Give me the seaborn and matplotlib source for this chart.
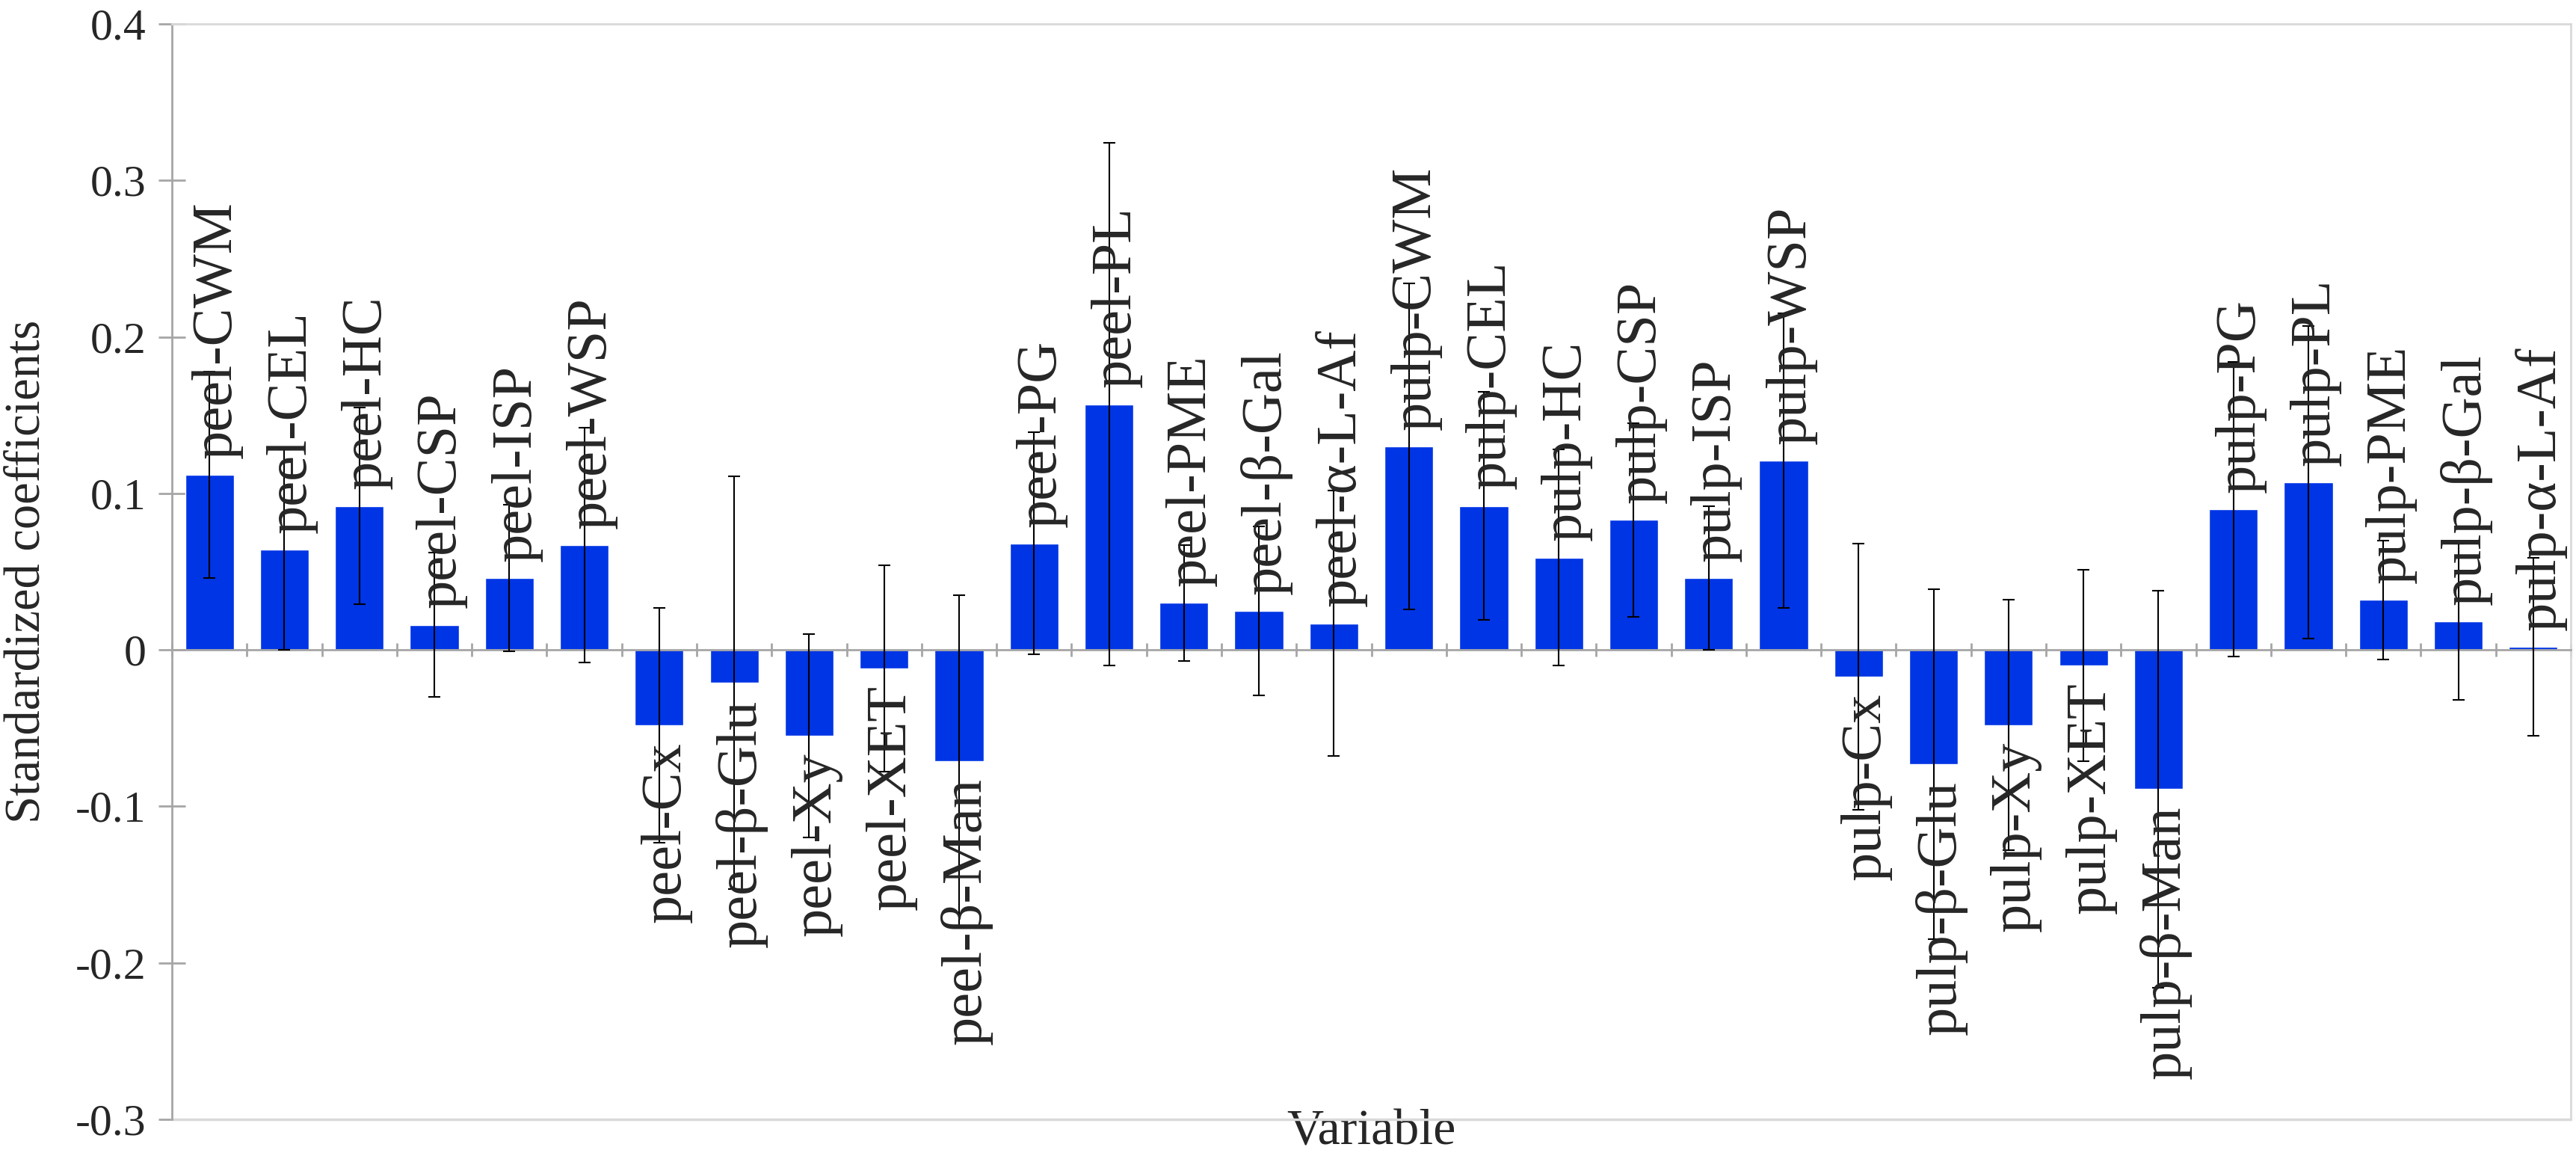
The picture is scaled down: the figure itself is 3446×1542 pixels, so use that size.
import matplotlib
matplotlib.use("Agg")
from matplotlib import pyplot as plt
from matplotlib.ticker import FixedLocator, FuncFormatter
import pandas as pd
import seaborn as sns
import numpy as np

# hodnoty
parts = ["peel", "pulp"]
enzymes = ["CWM", "CEL", "HC", "CSP", "ISP", "WSP", "Cx", "β-Glu", "Xy", "XET",
           "β-Man", "PG", "PL", "PME", "β-Gal", "α-L-Af"]
variables = [f"{p}-{e}" for p in parts for e in enzymes]

peel_coef = [0.112, 0.064, 0.092, 0.016, 0.046, 0.067, -0.048, -0.021, -0.055, -0.012,
             -0.071, 0.068, 0.157, 0.030, 0.025, 0.017]
pulp_coef = [0.130, 0.092, 0.059, 0.083, 0.046, 0.121, -0.017, -0.073, -0.048, -0.010,
             -0.089, 0.090, 0.107, 0.032, 0.018, 0.002]
peel_err = [0.066, 0.064, 0.063, 0.046, 0.047, 0.075, 0.075, 0.132, 0.065, 0.066,
            0.106, 0.071, 0.167, 0.037, 0.054, 0.085]
pulp_err = [0.104, 0.073, 0.069, 0.062, 0.046, 0.094, 0.085, 0.112, 0.080, 0.061,
            0.127, 0.094, 0.100, 0.038, 0.050, 0.057]
y_ticks = [-0.3, -0.2, -0.1, 0.0, 0.1, 0.2, 0.3, 0.4]

df = pd.DataFrame({"Variable": variables,
                   "coef": peel_coef + pulp_coef,
                   "err": peel_err + pulp_err})

sns.set_theme(style="white")
plt.rcParams["font.family"] = ["Liberation Serif", "DejaVu Serif"]
plt.rcParams["axes.unicode_minus"] = False

fig = plt.figure(figsize=(34.46, 15.42), dpi=100)
ax = fig.add_axes([230 / 3446, 1 - 1497 / 1542, (3439 - 230) / 3446, (1497 - 32) / 1542])

sns.barplot(data=df, x="Variable", y="coef", color="#0035E5", saturation=1,
            width=0.65, errorbar=None, ax=ax, zorder=2)
pos = np.arange(len(df))
ax.errorbar(pos, df["coef"], yerr=df["err"], fmt="none", ecolor="black",
            elinewidth=1.5, capsize=5.5, capthick=1.5, zorder=3)

for i, (name, v) in enumerate(zip(df["Variable"], df["coef"])):
    if v >= 0:
        ax.annotate(name, xy=(i, v), xytext=(7, 16), textcoords="offset points",
                    rotation=90, ha="center", va="bottom", fontsize=55, zorder=4)
    else:
        ax.annotate(name, xy=(i, v), xytext=(7, -16), textcoords="offset points",
                    rotation=90, ha="center", va="top", fontsize=55, zorder=4)

ax.set_xlim(-0.5, len(df) - 0.5)
ax.set_ylim(y_ticks[0], y_ticks[-1])

# osa x na nule, dilky mezi kategoriemi
ax.spines["bottom"].set_position(("data", 0))
ax.spines["bottom"].set_color("#A6A6A6")
ax.spines["bottom"].set_linewidth(2)
ax.spines["left"].set_color("#A6A6A6")
ax.spines["left"].set_linewidth(2)
for s in ["top", "right"]:
    ax.spines[s].set_color("#D9D9D9")
    ax.spines[s].set_linewidth(2)
ax.axhline(y_ticks[0], color="#D9D9D9", lw=2.5, clip_on=False, zorder=1)

ax.xaxis.set_minor_locator(FixedLocator(np.arange(len(df) + 1) - 0.5))
ax.tick_params(axis="x", which="major", length=0, labelbottom=False)
ax.tick_params(axis="x", which="minor", direction="inout", length=13, width=2,
               color="#A6A6A6", bottom=True)
ax.set_yticks(y_ticks)
ax.yaxis.set_major_formatter(FuncFormatter(lambda v, _: "0" if abs(v) < 1e-9 else f"{v:.1f}"))
ax.tick_params(axis="y", direction="inout", length=26, width=2, color="#A6A6A6",
               labelsize=43, pad=12, left=True)

ax.set_xlabel("Variable", fontsize=49, va="top")
ax.xaxis.set_label_coords(0.5, 0.009)
ax.set_ylabel("Standardized coefficients", fontsize=48)
ax.yaxis.set_label_coords(-0.051, 0.5)

fig.savefig("out.png", dpi=100)
